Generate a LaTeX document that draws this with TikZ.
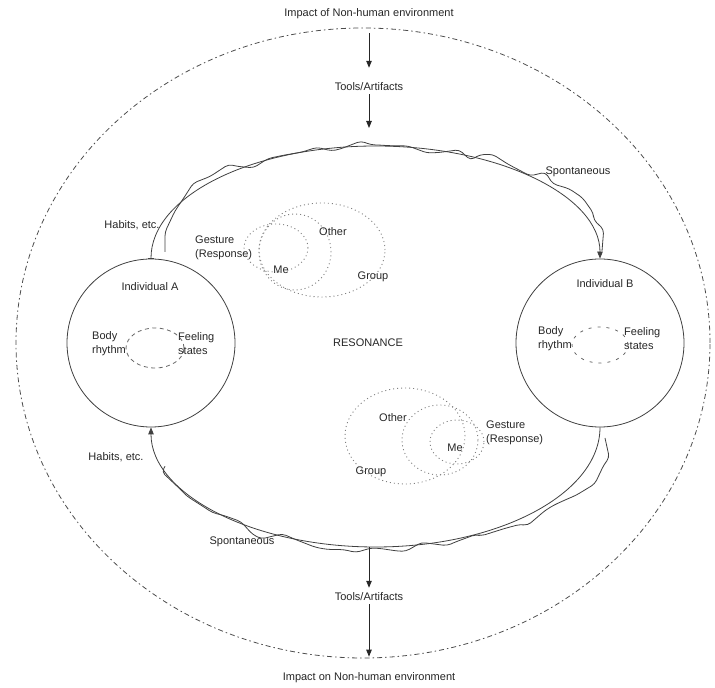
\documentclass[tikz,border=0pt]{standalone}
\usepackage{fontspec}
\setmainfont{Liberation Sans}
\usetikzlibrary{arrows.meta,shapes.geometric,decorations.pathmorphing}

\begin{document}
\begin{tikzpicture}
[x=1pt,y=1pt,
  ringDecorate/.style={shape=circle,draw=black!75,line width=0.8pt,minimum size=168pt,inner sep=0pt},%
  envirDecorate/.style={shape=ellipse,draw=black!70,line width=0.8pt,dash pattern=on 5pt off 3pt on 1.5pt off 3pt,minimum width=694pt,minimum height=630pt,inner sep=0pt},%
  lineDecorate/.style={draw=black!75,line width=0.8pt},%
  waveDecorate/.style={decoration={random steps,segment length=15pt,amplitude=6.5pt}},%
  arrowDecorate/.style={draw=black!85,line width=0.8pt,-{Triangle[length=7pt,width=5.5pt]}},%
  dotDecorate/.style={draw=black!50,line width=0.9pt,dash pattern=on 1pt off 3pt},%
  dashDecorate/.style={draw=black!60,line width=0.8pt,dash pattern=on 4pt off 3.5pt},%
  textDecorate/.style={inner sep=2pt,text=black!85,align=left}]
\fontsize{11}{14}\selectfont
\useasboundingbox (0,0) rectangle (715,688);
\pgfmathsetseed{23}
%% environment and the two individuals
\node (envir) at (363,345) [envirDecorate] {};
\node (indA) at (151,345) [ringDecorate] {};
\node (indB) at (600,345) [ringDecorate] {};
%% text labels
\foreach \labname/\x/\y/\txt in {impTop/369/674/{Impact of Non-human environment},
  toolsTop/369/601/{Tools/Artifacts}, toolsBot/369/91/{Tools/Artifacts},
  impBot/369/10/{Impact on Non-human environment},
  spontTop/578/516/{Spontaneous}, spontBot/242/146/{Spontaneous},
  habitsTop/132/463/{Habits, etc.}, habitsBot/116/231/{Habits, etc.},
  resonance/368/345/{RESONANCE}, nameA/150/401/{Individual A}, nameB/605/404/{Individual B},
  otherTop/333/456/{Other}, meTop/281/418/{Me}, groupTop/373/411/{Group},
  otherBot/393/270/{Other}, meBot/455/240/{Me}, groupBot/371/216/{Group}}
{
  \node (\labname) at (\x,\y) [textDecorate] {\txt};
}
\foreach \labname/\x/\y/\txt in {gestTop/193/440/{Gesture\\(Response)},
  gestBot/484/255/{Gesture\\(Response)},
  bodyA/90/344/{Body\\rhythm}, feelA/176/344/{Feeling\\states},
  bodyB/536/349/{Body\\rhythm}, feelB/622/349/{Feeling\\states}}
{
  \node (\labname) at (\x,\y) [textDecorate,anchor=west] {\txt};
}
%% me / other / group
\foreach \cx/\cy/\rx/\ry in {322/438/63/47, 295/436/36/38, 276/440/32/24,
  405/252/60/48, 440/248/38/35, 457/246/27/22}
{
  \draw[dotDecorate] (\cx,\cy) ellipse [x radius=\rx, y radius=\ry];
}
\draw[dashDecorate] (155,340) ellipse [x radius=29, y radius=20];
\draw[dashDecorate,dash pattern=on 3pt off 6pt] (600,343) ellipse [x radius=28, y radius=18];
%% resonance loop
\coordinate (ellTop) at (375.5,542);
\coordinate (ellBot) at (375.5,141);
\coordinate (topEntry) at (369,560);
\coordinate (botExit) at (369,141);
\coordinate (waveTopA) at (165,436);
\coordinate (waveTopB) at (602,437);
\coordinate (waveBotB) at (605,250);
\coordinate (waveBotA) at (166,222);
\draw[lineDecorate,{Bar[width=6pt]}-{Triangle[length=7pt,width=5.5pt]}]
  (indA.north) .. controls +(0,62.4) and +(-124,0) .. (ellTop)
  .. controls +(124,0) and +(0,62.4) .. (indB.north);
\draw[lineDecorate,-{Triangle[length=7pt,width=5.5pt]}]
  (indB.south) .. controls +(0,-66) and +(124,0) .. (ellBot)
  .. controls +(-124,0) and +(0,-66) .. (indA.south);
\draw[lineDecorate,rounded corners=4pt] (waveTopA) -- ++(0,20)
  decorate[waveDecorate]{.. controls (168,500) and (255,543) .. (375,543)
  .. controls (495,543) and (598,500) .. (602,458)} -- (waveTopB);
\draw[lineDecorate,rounded corners=4pt] (waveBotB)
  decorate[waveDecorate]{.. controls (605,185) and (500,140) .. (375,140)
  .. controls (255,140) and (172,180) .. (waveBotA)};
%% tools and environment
\draw[arrowDecorate,shorten <=12pt,shorten >=13pt] (impTop) -- (toolsTop);
\draw[arrowDecorate,shorten <=1pt] (toolsTop) -- (topEntry);
\draw[arrowDecorate,shorten >=3pt] (botExit) -- (toolsBot);
\draw[arrowDecorate,shorten <=1pt,shorten >=14pt] (toolsBot) -- (impBot);
\end{tikzpicture}
\end{document}
